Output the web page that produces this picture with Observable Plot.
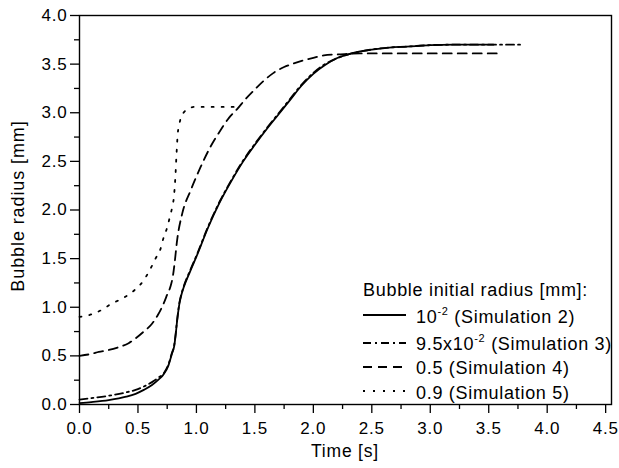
<!DOCTYPE html>
<html>
<head>
<meta charset="utf-8">
<script src="https://cdn.jsdelivr.net/npm/d3@7"></script>
<script src="https://cdn.jsdelivr.net/npm/@observablehq/plot@0.6"></script>
<style>
  html, body { margin: 0; padding: 0; background: #fff; }
  #chart svg { display: block; }
</style>
</head>
<body>
<div id="chart"></div>
<script>
// ---- data ----
const sim2T = [0, 0.1, 0.25, 0.4, 0.48, 0.55, 0.62, 0.68, 0.72, 0.76, 0.79, 0.81, 0.82, 0.835, 0.855, 0.87, 0.89, 0.95, 1.0, 1.1, 1.2, 1.3, 1.4, 1.5, 1.6, 1.7, 1.8, 1.9, 2.0, 2.1, 2.2, 2.3, 2.4, 2.5, 2.65, 2.8, 3.0, 3.2, 3.54];
const sim2R = [0.015, 0.025, 0.045, 0.08, 0.11, 0.15, 0.2, 0.26, 0.31, 0.4, 0.52, 0.6, 0.69, 0.86, 1.04, 1.12, 1.2, 1.38, 1.52, 1.82, 2.08, 2.3, 2.5, 2.67, 2.83, 2.98, 3.13, 3.28, 3.4, 3.49, 3.56, 3.6, 3.63, 3.65, 3.67, 3.68, 3.695, 3.7, 3.7];

const sim3T = [0, 0.1, 0.25, 0.4, 0.48, 0.55, 0.62, 0.68, 0.72, 0.76, 0.79, 0.81, 0.82, 0.835, 0.855, 0.87, 0.89, 0.95, 1.0, 1.1, 1.2, 1.3, 1.4, 1.5, 1.6, 1.7, 1.8, 1.9, 2.0, 2.1, 2.2, 2.3, 2.4, 2.5, 2.65, 2.8, 3.0, 3.2, 3.5, 3.79];
const sim3R = [0.05, 0.065, 0.09, 0.125, 0.15, 0.185, 0.23, 0.28, 0.32, 0.41, 0.53, 0.61, 0.7, 0.87, 1.05, 1.13, 1.21, 1.39, 1.53, 1.83, 2.09, 2.31, 2.51, 2.68, 2.84, 2.99, 3.14, 3.29, 3.41, 3.5, 3.56, 3.6, 3.63, 3.65, 3.67, 3.68, 3.695, 3.7, 3.7, 3.7];

const sim4T = [0, 0.1, 0.165, 0.25, 0.336, 0.42, 0.48, 0.55, 0.62, 0.67, 0.72, 0.75, 0.78, 0.8, 0.813, 0.835, 0.878, 0.95, 1.035, 1.12, 1.206, 1.28, 1.35, 1.42, 1.5, 1.577, 1.66, 1.75, 1.84, 1.92, 2.0, 2.09, 2.2, 2.3, 2.4, 2.6, 3.0, 3.57];
const sim4R = [0.5, 0.52, 0.54, 0.56, 0.59, 0.63, 0.68, 0.75, 0.83, 0.92, 1.04, 1.13, 1.22, 1.33, 1.45, 1.69, 1.96, 2.2, 2.44, 2.65, 2.82, 2.95, 3.04, 3.14, 3.24, 3.33, 3.41, 3.47, 3.51, 3.54, 3.565, 3.59, 3.6, 3.605, 3.61, 3.61, 3.61, 3.61];

const sim5T = [0, 0.11, 0.2, 0.265, 0.365, 0.465, 0.545, 0.6, 0.65, 0.693, 0.72, 0.75, 0.773, 0.793, 0.807, 0.82, 0.83, 0.84, 0.855, 0.87, 0.89, 0.93, 0.98, 1.1, 1.2, 1.35];
const sim5R = [0.9, 0.93, 0.98, 1.03, 1.09, 1.17, 1.27, 1.38, 1.5, 1.6, 1.72, 1.82, 1.93, 2.03, 2.13, 2.34, 2.58, 2.78, 2.89, 2.96, 3.0, 3.04, 3.06, 3.06, 3.06, 3.06];

const xTicks = [0, 0.5, 1, 1.5, 2, 2.5, 3, 3.5, 4, 4.5];
const yTicks = [0, 0.5, 1, 1.5, 2, 2.5, 3, 3.5, 4];
const xMinor = [0.25, 0.75, 1.25, 1.75, 2.25, 2.75, 3.25, 3.75, 4.25];
const yMinor = [0.25, 0.75, 1.25, 1.75, 2.25, 2.75, 3.25, 3.75];

const xLabel = "Time [s]";
const yLabel = "Bubble radius [mm]";
const legendTitle = "Bubble initial radius [mm]:";
const seriesNames = ["Simulation 2", "Simulation 3", "Simulation 4", "Simulation 5"];
const seriesValues = [["10", "-2"], ["9.5x10", "-2"], ["0.5", ""], ["0.9", ""]];
const dashes = [null, "8,4,2,4", "9,6", "2,8"];

const toRows = (T, R) => T.map((t, i) => ({t, r: R[i]}));
const series = [toRows(sim2T, sim2R), toRows(sim3T, sim3R), toRows(sim4T, sim4R), toRows(sim5T, sim5R)];

const FONT = "'Liberation Sans', Arial, Helvetica, sans-serif";

const lineMarks = series.map((rows, i) =>
  Plot.line(rows, {x: "t", y: "r", stroke: "black", strokeWidth: 1.8,
    strokeDasharray: dashes[i] || undefined, curve: "monotone-x"})
);

const chart = Plot.plot({
  width: 619, height: 468,
  marginLeft: 79, marginRight: 8, marginTop: 15, marginBottom: 64,
  x: {domain: [0, 4.55]},
  y: {domain: [0, 4]},
  style: {fontFamily: FONT, fontSize: "17px", color: "black", background: "white", letterSpacing: "0.8px"},
  marks: [
    Plot.axisX({ticks: xTicks, tickSize: 9, tickPadding: 8, tickFormat: d3.format(".1f"), label: null, strokeWidth: 1.3}),
    Plot.axisX({ticks: xMinor, tickSize: 5, text: null, label: null, strokeWidth: 1.3}),
    Plot.axisY({ticks: yTicks, tickSize: 9, tickPadding: 3, tickFormat: d3.format(".1f"), label: null, strokeWidth: 1.3}),
    Plot.axisY({ticks: yMinor, tickSize: 5, text: null, label: null, strokeWidth: 1.3}),
    Plot.frame({stroke: "black", strokeWidth: 1.4}),
    ...lineMarks
  ]
});
document.getElementById("chart").appendChild(chart);

// ---- axis titles and legend ----
const svg = d3.select(chart);
svg.append("text")
  .attr("x", 345).attr("y", 457)
  .attr("text-anchor", "middle")
  .style("font-family", FONT).style("font-size", "17.5px").style("letter-spacing", "0.8px")
  .text(xLabel);
svg.append("text")
  .attr("transform", "translate(24,206) rotate(-90)")
  .attr("text-anchor", "middle")
  .style("font-family", FONT).style("font-size", "18px").style("letter-spacing", "0.9px")
  .text(yLabel);

const lg = svg.append("g")
  .attr("text-anchor", "start")
  .style("font-family", FONT).style("font-size", "18px").style("letter-spacing", "0.7px");
lg.append("text").attr("x", 363).attr("y", 296).attr("text-anchor", "start").text(legendTitle);
const baselines = [323, 350, 374, 399];
const lineYs = [315, 343, 367, 391];
seriesNames.forEach((name, i) => {
  lg.append("line")
    .attr("x1", 363).attr("x2", 406).attr("y1", lineYs[i]).attr("y2", lineYs[i])
    .attr("stroke", "black").attr("stroke-width", 1.8)
    .attr("stroke-dasharray", dashes[i]);
  const t = lg.append("text").attr("x", 416).attr("y", baselines[i]).attr("text-anchor", "start");
  const [pre, sup] = seriesValues[i];
  t.append("tspan").text(pre);
  if (sup) {
    t.append("tspan").attr("dy", -8).style("font-size", "11px").text(sup);
    t.append("tspan").attr("dy", 8).text(" (" + name + ")");
  } else {
    t.append("tspan").text(" (" + name + ")");
  }
});
</script>
</body>
</html>
